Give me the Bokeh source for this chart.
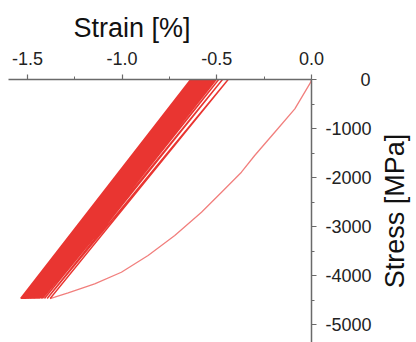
from bokeh.plotting import figure
from bokeh.layouts import row
from bokeh.models import Range1d, FixedTicker
from bokeh.embed import file_html
from bokeh.resources import INLINE

# First (monotonic) loading curve: strain [%], stress [MPa]
load_strain = [0.0, -0.004, -0.088, -0.194, -0.300, -0.370, -0.475, -0.581, -0.722, -0.863,
               -1.004, -1.145, -1.285, -1.356, -1.380]
load_stress = [0, -55, -598, -1076, -1551, -1892, -2300, -2708, -3184, -3592,
               -3933, -4169, -4353, -4443, -4470]

# Cyclic part: strain at zero stress after each unloading, strain at peak stress of each cycle
cycle_top_strain = [-0.440, -0.470, -0.490, -0.503, -0.513, -0.521, -0.528, -0.534, -0.540, -0.545,
                    -0.550, -0.555, -0.559, -0.563, -0.567, -0.571, -0.575, -0.578, -0.582, -0.585,
                    -0.588, -0.591, -0.594, -0.597, -0.600, -0.603, -0.606, -0.608, -0.611, -0.613,
                    -0.616, -0.618, -0.621, -0.623, -0.626, -0.628, -0.631, -0.633, -0.636, -0.638]
cycle_bottom_strain = [-1.380, -1.396, -1.410, -1.421, -1.430, -1.438, -1.444, -1.450, -1.455, -1.460,
                       -1.464, -1.468, -1.472, -1.476, -1.479, -1.482, -1.485, -1.488, -1.491, -1.494,
                       -1.497, -1.499, -1.502, -1.504, -1.507, -1.509, -1.511, -1.513, -1.515, -1.517,
                       -1.519, -1.521, -1.523, -1.525, -1.527, -1.529, -1.530, -1.532, -1.534, -1.536]
stress_peak = -4470
stress_zero = 0

x_ticks = [-1.5, -1.0, -0.5, 0.0]
x_labels = ["-1.5", "-1.0", "-0.5", "0.0"]
x_minor = [-1.25, -0.75, -0.25]
y_ticks = [0, -1000, -2000, -3000, -4000, -5000]
y_labels = ["0", "-1000", "-2000", "-3000", "-4000", "-5000"]
y_minor = [-500, -1500, -2500, -3500, -4500]

RED = "#e82a26"
AXIS = "#6a6a6a"
FONT = "Liberation Sans"

y_range = Range1d(-5367, 0)

p = figure(width=376, height=342, output_backend="svg", toolbar_location=None,
           x_range=Range1d(-1.600, 0.0), y_range=y_range,
           x_axis_location="above", y_axis_location="right",
           min_border_left=8, min_border_right=65, min_border_top=79, min_border_bottom=0)
p.grid.visible = False
p.outline_line_color = None
p.background_fill_color = "white"

# cyclic zig-zag path
xs, ys = [], []
for b, t in zip(cycle_bottom_strain, cycle_top_strain):
    xs += [b, t]
    ys += [stress_peak, stress_zero]
p.line(xs, ys, line_color=RED, line_width=1.4, line_alpha=0.95)
p.line(load_strain, load_stress, line_color=RED, line_width=1.3, line_alpha=0.6)

for ax in (p.xaxis[0], p.yaxis[0]):
    ax.axis_line_color = AXIS
    ax.axis_line_width = 1.5
    ax.major_tick_line_color = AXIS
    ax.minor_tick_line_color = AXIS
    ax.major_tick_line_width = 1.2
    ax.major_tick_in = 0
    ax.major_tick_out = 5
    ax.minor_tick_in = 0
    ax.minor_tick_out = 3
    ax.major_label_text_font = FONT
    ax.major_label_text_font_size = "18px"
    ax.major_label_text_color = "#222222"

xa = p.xaxis[0]
xa.ticker = FixedTicker(ticks=x_ticks, minor_ticks=x_minor)
xa.major_label_standoff = 10
xa.major_label_overrides = dict(zip(x_ticks, x_labels))

# right-align the y tick labels by padding with figure/punctuation spaces
def pad(s, width=5):
    n = width - len(s)
    if n <= 0:
        return s
    return "\u2007" * (n - 1) + "\u2008" + s

ya = p.yaxis[0]
ya.ticker = FixedTicker(ticks=y_ticks, minor_ticks=y_minor)
ya.major_label_overrides = {v: pad(s) for v, s in zip(y_ticks, y_labels)}
ya.major_label_standoff = 9

p.title.text = "Strain [%]"
p.title.align = "left"
p.title.offset = 65
p.title.standoff = 11
p.title.text_font = FONT
p.title.text_font_size = "27px"
p.title.text_font_style = "normal"
p.title.text_color = "#111111"

# narrow companion panel carrying the rotated "Stress [MPa]" axis title
p2 = figure(width=40, height=342, output_backend="svg", toolbar_location=None,
            x_range=Range1d(0, 1), y_range=y_range,
            x_axis_location=None, y_axis_location="left",
            min_border_left=0, min_border_right=0, min_border_top=79, min_border_bottom=0)
p2.grid.visible = False
p2.outline_line_color = None
ya2 = p2.yaxis[0]
ya2.ticker = FixedTicker(ticks=[])
ya2.axis_line_color = None
ya2.major_tick_line_color = None
ya2.minor_tick_line_color = None
ya2.major_label_text_font_size = "0px"
ya2.axis_label = "Stress [MPa]"
ya2.axis_label_text_font = FONT
ya2.axis_label_text_font_size = "27px"
ya2.axis_label_text_font_style = "normal"
ya2.axis_label_text_color = "#111111"
ya2.axis_label_standoff = 0

layout = row(p, p2)
open("out.html", "w").write(file_html(layout, INLINE))
